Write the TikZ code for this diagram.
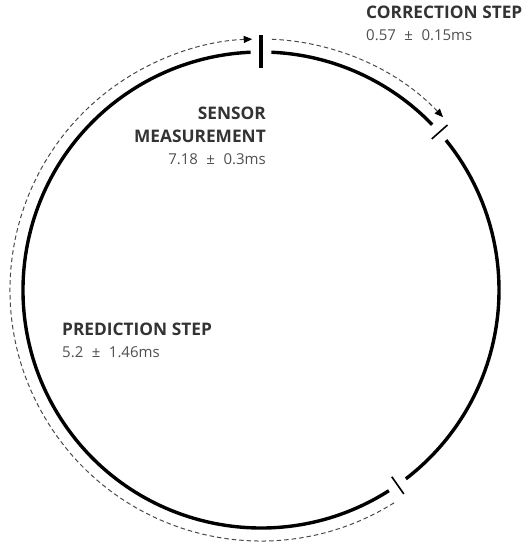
\documentclass[tikz,border=0pt]{standalone}
\usepackage{fontspec}
\setmainfont{Open Sans}
\usetikzlibrary{arrows.meta}
\definecolor{titlegray}{HTML}{333333}
\definecolor{subgray}{HTML}{505050}
\definecolor{dashgray}{HTML}{4a4a4a}
\newcommand{\pmgap}{\hspace{8.5pt}±\hspace{8.5pt}}
\tikzset{
  ring/.style={line width=3.4pt, black},
  bigtick/.style={line width=4pt, black},
  smalltick/.style={line width=1.6pt, black},
  flow/.style={dashgray, line width=1pt, dash pattern=on 4.5pt off 3pt,
    -{Stealth[length=8.5pt,width=7pt,inset=0pt,black]}},
  title/.style={inner sep=0pt, text=titlegray, font=\bfseries\fontsize{17.3}{21}\selectfont},
  sub/.style={inner sep=0pt, text=subgray, font=\fontsize{15}{17}\selectfont},
}
\begin{document}
\begin{tikzpicture}[x=1pt,y=1pt]
\useasboundingbox (0,0) rectangle (525,545);
\begin{scope}[shift={(261,255)}]
  % tick marks (stage boundaries)
  \coordinate (tA1) at (90:222);   \coordinate (tA2) at (90:255);
  \coordinate (tB1) at (41.5:228); \coordinate (tB2) at (41.5:249);
  \coordinate (tC1) at (-55:228);  \coordinate (tC2) at (-55:249);
  % ring segment starts
  \coordinate (s1) at (87.5:238);
  \coordinate (s2) at (39:238);
  \coordinate (s3) at (-57.5:238);
  % flow arrow starts
  \coordinate (f1) at (-58:251);
  \coordinate (f2) at (87.5:251);

  \draw[ring] (s1) arc[start angle=87.5, end angle=44, radius=238pt];
  \draw[ring] (s2) arc[start angle=39, end angle=-52.5, radius=238pt];
  \draw[ring] (s3) arc[start angle=-57.5, end angle=-267.5, radius=238pt];

  \draw[bigtick] (tA1) -- (tA2);
  \draw[smalltick] (tB1) -- (tB2);
  \draw[smalltick] (tC1) -- (tC2);

  \draw[flow] (f1) arc[start angle=-58, end angle=-268, radius=251pt];
  \draw[flow] (f2) arc[start angle=87.5, end angle=43.5, radius=251pt];
\end{scope}

\node[title, anchor=base west] (corr) at (366,526) {CORRECTION STEP};
\node[sub, anchor=base west] (corrt) at (366,504) {0.57\pmgap0.15ms};

\node[title, anchor=base east] (sens1) at (266,425) {SENSOR};
\node[title, anchor=base east] (sens2) at (266,402) {MEASUREMENT};
\node[sub, anchor=base east] (senst) at (266,380) {7.18\pmgap0.3ms};

\node[title, anchor=base west] (pred) at (62,209) {PREDICTION STEP};
\node[sub, anchor=base west] (predt) at (62,187) {5.2\pmgap1.46ms};
\end{tikzpicture}
\end{document}
